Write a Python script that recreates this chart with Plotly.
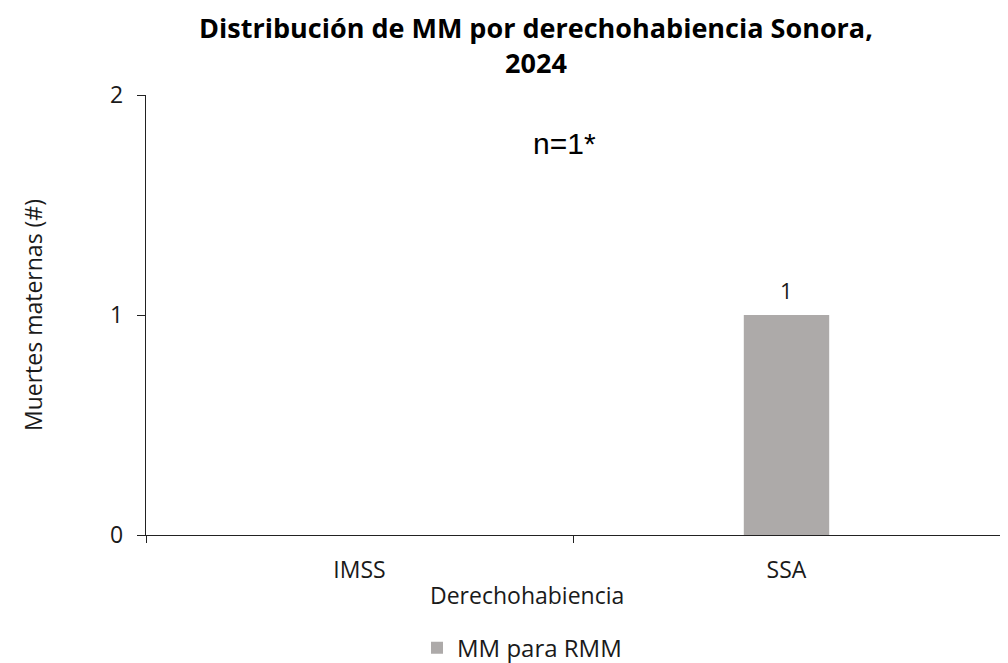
import plotly.graph_objects as go

categories = ["IMSS", "SSA"]
values = [0, 1]
value_labels = ["", "1"]
series_name = "MM para RMM"
title_text = "<b>Distribución de MM por derechohabiencia Sonora,<br>2024</b>"
x_title = "Derechohabiencia"
y_title = "Muertes maternas (#)"
note_text = "n=1*"

FONT = "Open Sans, Lato, sans-serif"
# the page adds an 8px body margin; figure is sized so the window shows 1008x663
W, H = 1000, 655
ML, MR, MT, MB = 138, 8, 87, 128
PW = W - ML - MR
CENTER_X = 519  # horizontal centre of the whole chart block (figure px)

fig = go.Figure()
fig.add_trace(go.Bar(
    x=categories, y=values, name=series_name,
    marker=dict(color="#ADAAA9", line=dict(width=0)),
    width=0.2,
))

for cat, v, lab in zip(categories, values, value_labels):
    if lab:
        fig.add_annotation(x=cat, y=v, xref="x", yref="y", text=lab, showarrow=False,
                           yanchor="bottom", yshift=8,
                           font=dict(family=FONT, size=22, color="#1a1a1a"))

fig.add_annotation(
    x=0.48, y=1.78, xref="x", yref="y", text=note_text, showarrow=False,
    font=dict(family="Liberation Sans, Arial, sans-serif", size=30, color="#000"),
)

fig.add_annotation(
    x=(CENTER_X - ML) / PW, y=-0.136, xref="paper", yref="paper", text=x_title,
    showarrow=False, xanchor="center", yanchor="middle",
    font=dict(family=FONT, size=23, color="#1a1a1a"),
)

fig.update_layout(
    width=W, height=H,
    paper_bgcolor="white", plot_bgcolor="white",
    margin=dict(l=ML, r=MR, t=MT, b=MB, autoexpand=False),
    title=dict(text=title_text, x=(CENTER_X + 9) / W, xanchor="center",
               yref="container", y=(H - 30) / H, yanchor="middle",
               font=dict(family=FONT, size=27, color="#000")),
    font=dict(family=FONT, size=23, color="#1a1a1a"),
    showlegend=True,
    legend=dict(orientation="h", x=(CENTER_X - 5 - ML) / PW, xanchor="center",
                y=-0.257, yanchor="middle",
                font=dict(size=24, color="#1a1a1a")),
    bargap=0.8,
)
fig.update_xaxes(
    showline=True, linecolor="#222", linewidth=1.3,
    ticks="outside", tickson="boundaries", ticklen=7, tickcolor="#222", tickwidth=1.3,
    ticklabelstandoff=14,
    showgrid=False, zeroline=False, automargin=False,
)
fig.update_yaxes(
    range=[0, 2], tickvals=[0, 1, 2],
    showline=True, linecolor="#222", linewidth=1.3,
    ticks="outside", ticklen=8, tickcolor="#222", tickwidth=1.3,
    ticklabelstandoff=9,
    title=dict(text=y_title, standoff=61, font=dict(size=23)),
    showgrid=False, zeroline=False, automargin=False,
)

fig.write_html("out.html")
